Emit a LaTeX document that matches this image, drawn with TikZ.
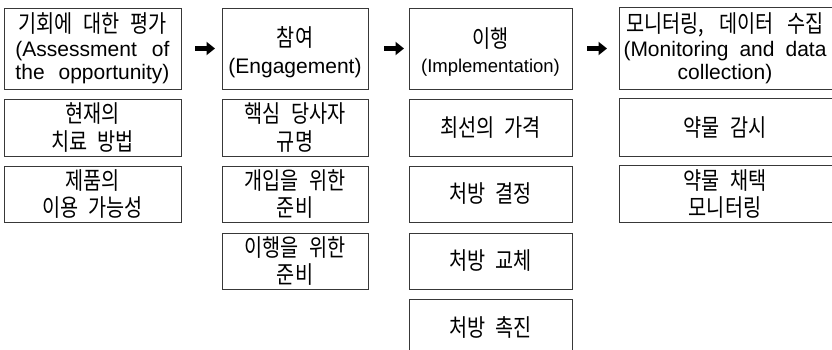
\documentclass[tikz,border=0pt]{standalone}
\usepackage{fontspec}
\usetikzlibrary{arrows.meta}
\setmainfont{Liberation Sans}
\newfontfamily\kr[WordSpace=2.3,FakeStretch=0.82]{Noto Sans CJK KR}
\newcommand\krl{\kr\fontsize{24}{23.5}\selectfont}
\begin{document}
\begin{tikzpicture}[x=1pt,y=-1pt,
  boxline/.style={draw=black!78, line width=0.9pt},
  box/.style={boxline, inner sep=0pt, align=center},
  mix/.style={box, font=\fontsize{21}{23.5}\selectfont},
  kor/.style={box, font=\kr\fontsize{24}{27.5}\selectfont},
  c1/.style={minimum width=177},
  c2/.style={minimum width=146},
  c3/.style={minimum width=163},
  c4/.style={minimum width=210, draw=none},
  r1/.style={minimum height=81},
  rr/.style={minimum height=56},
  flowarrow/.style={line width=4.4pt, -{Triangle[length=8.5pt,width=13pt]}}]
\useasboundingbox (0,0) rectangle (832,349);

% column 1
\node[mix,c1,r1] (a1) at (92.5,48.5)
  {\makebox[149pt][s]{\krl 기회에 대한 평가}\\\makebox[154pt][s]{(Assessment of}\\\makebox[154pt][s]{the opportunity)}};
\node[kor,c1,minimum height=57] (a2) at (92.5,127.5) {현재의\\치료 방법};
\node[kor,c1,rr] (a3) at (92.5,194) {제품의\\이용 가능성};

% column 2
\node[mix,c2,r1] (b1) at (295,48.5) {\rule{0pt}{27pt}{\krl 참여}\\[3pt](Engagement)};
\node[kor,c2,minimum height=57] (b2) at (295,127.5) {핵심 당사자\\규명};
\node[kor,c2,rr] (b3) at (295,194) {개입을 위한\\준비};
\node[kor,c2,rr] (b4) at (295,261) {이행을 위한\\준비};

% column 3
\node[mix,c3,r1] (c1n) at (490.5,48.5) {\rule{0pt}{27pt}{\krl 이행}\\[1pt]{\fontsize{18.5}{21}\selectfont(Implementation)}};
\node[kor,c3,minimum height=57] (c2n) at (490.5,127.5) {최선의 가격};
\node[kor,c3,rr] (c3n) at (490.5,194) {처방 결정};
\node[kor,c3,rr] (c4n) at (490.5,261) {처방 교체};
\node[kor,c3,rr] (c5n) at (490.5,327) {처방 촉진};

% column 4 (right edge lies beyond the picture)
\node[mix,c4,r1] (d1) at (725,48.5)
  {\makebox[197pt][s]{\krl 모니터링, 데이터 수집}\\\makebox[203pt][s]{(Monitoring and data}\\collection)};
\node[kor,c4,minimum height=57] (d2) at (725,127.5) {약물 감시};
\node[kor,c4,rr] (d3) at (725,194) {약물 채택\\모니터링};
\foreach \n in {d1,d2,d3}
  \draw[boxline] (\n.north west) rectangle ([xshift=20pt]\n.south east);

% arrows
\coordinate (p1s) at (195,48.5); \coordinate (p1e) at (215,48.5);
\coordinate (p2s) at (384,48.5); \coordinate (p2e) at (404,48.5);
\coordinate (p3s) at (587,48.5); \coordinate (p3e) at (607,48.5);
\draw[flowarrow] (p1s) -- (p1e);
\draw[flowarrow] (p2s) -- (p2e);
\draw[flowarrow] (p3s) -- (p3e);
\end{tikzpicture}
\end{document}
